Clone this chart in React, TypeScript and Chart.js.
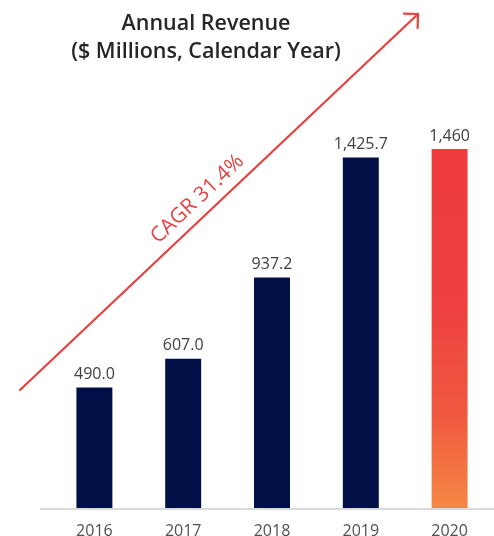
import React, { useEffect, useRef } from "react";
import { Chart, registerables } from "chart.js";

Chart.register(...registerables);

const categories = ["2016", "2017", "2018", "2019", "2020"];
const revenue = [490.0, 607.0, 937.2, 1425.7, 1460];
const valueLabels = ["490.0", "607.0", "937.2", "1,425.7", "1,460"];
const titleLines = ["Annual Revenue", "($ Millions, Calendar Year)"];
const cagrLabel = "CAGR 31.4%";

const NAVY = "#000F45";
const RED = "#E8403F";
const FONT = "'Open Sans', 'Noto Sans', sans-serif";

export default function App() {
  const ref = useRef<HTMLCanvasElement | null>(null);

  useEffect(() => {
    const canvas = ref.current;
    if (!canvas) return;

    const decor = {
      id: "decor",
      afterDatasetsDraw(chart: any) {
        const ctx = chart.ctx as CanvasRenderingContext2D;
        const area = chart.chartArea;
        const yS = chart.scales.y;
        const meta = chart.getDatasetMeta(0);
        const base = yS.getPixelForValue(0);

        // baseline
        ctx.save();
        ctx.strokeStyle = "#DADADA";
        ctx.lineWidth = 2;
        ctx.beginPath();
        ctx.moveTo(area.left - 10, base + 1);
        ctx.lineTo(area.right, base + 1);
        ctx.stroke();
        ctx.restore();

        // value labels
        ctx.save();
        ctx.font = `16px ${FONT}`;
        ctx.fillStyle = "#404040";
        ctx.textAlign = "center";
        ctx.textBaseline = "bottom";
        meta.data.forEach((bar: any, i: number) => {
          ctx.fillText(valueLabels[i], bar.x, bar.y - 5);
        });
        ctx.restore();

        // title
        ctx.save();
        ctx.font = `600 21.5px ${FONT}`;
        ctx.fillStyle = "#262626";
        ctx.textAlign = "center";
        ctx.textBaseline = "middle";
        const tx = area.left + 156;
        ctx.fillText(titleLines[0], tx, 24);
        ctx.fillText(titleLines[1], tx, 52);
        ctx.restore();

        // CAGR arrow
        const x0 = area.left - 30, y0 = base - 118;
        const x1 = area.left + 368, y1 = 14;
        ctx.save();
        ctx.strokeStyle = RED;
        ctx.lineWidth = 2.2;
        ctx.lineCap = "round";
        ctx.beginPath();
        ctx.moveTo(x0, y0);
        ctx.lineTo(x1, y1);
        ctx.stroke();
        const ang = Math.atan2(y1 - y0, x1 - x0);
        const head = 14;
        ctx.beginPath();
        ctx.moveTo(x1 - head * Math.cos(ang - Math.PI / 4), y1 - head * Math.sin(ang - Math.PI / 4));
        ctx.lineTo(x1, y1);
        ctx.lineTo(x1 - head * Math.cos(ang + Math.PI / 4), y1 - head * Math.sin(ang + Math.PI / 4));
        ctx.stroke();

        // CAGR label
        const t = 0.475;
        const mx = x0 + (x1 - x0) * t;
        const my = y0 + (y1 - y0) * t;
        const off = 17;
        const cx = mx + off * Math.sin(ang);
        const cy = my - off * Math.cos(ang);
        ctx.translate(cx, cy);
        ctx.rotate(ang);
        ctx.font = `21px ${FONT}`;
        ctx.fillStyle = RED;
        ctx.textAlign = "center";
        ctx.textBaseline = "middle";
        ctx.fillText(cagrLabel, 0, 0);
        ctx.restore();
      },
    };

    const chart = new Chart(canvas, {
      type: "bar",
      data: {
        labels: categories,
        datasets: [
          {
            data: revenue,
            backgroundColor: (c: any) => {
              if (c.dataIndex !== categories.length - 1) return NAVY;
              const ch = c.chart;
              const area = ch.chartArea;
              if (!area) return RED;
              const yS = ch.scales.y;
              const top = yS.getPixelForValue(revenue[c.dataIndex]);
              const bottom = yS.getPixelForValue(0);
              const g = ch.ctx.createLinearGradient(0, top, 0, bottom);
              g.addColorStop(0, "#EE3B3E");
              g.addColorStop(0.45, "#EE4140");
              g.addColorStop(0.75, "#F05A40");
              g.addColorStop(1, "#F58744");
              return g;
            },
            borderWidth: 0,
            categoryPercentage: 1,
            barPercentage: 0.405,
          },
        ],
      },
      options: {
        responsive: false,
        animation: false,
        layout: { padding: { left: 50, right: 0, top: 90, bottom: 0 } },
        plugins: {
          legend: { display: false },
          title: { display: false },
          tooltip: { enabled: false },
        },
        scales: {
          x: {
            grid: { display: false },
            border: { display: false },
            ticks: {
              color: "#505050",
              font: { family: FONT, size: 16 },
              padding: 6,
            },
            afterFit: (s: any) => {
              s.height = 28;
            },
          },
          y: {
            display: false,
            min: 0,
            max: 1700,
          },
        },
      },
      plugins: [decor],
    });

    return () => chart.destroy();
  }, []);

  return (
    <div style={{ position: "fixed", left: 0, top: 0, width: 494, height: 536, background: "#fff" }}>
      <canvas ref={ref} width={494} height={536} style={{ display: "block", width: 494, height: 536 }} />
    </div>
  );
}
